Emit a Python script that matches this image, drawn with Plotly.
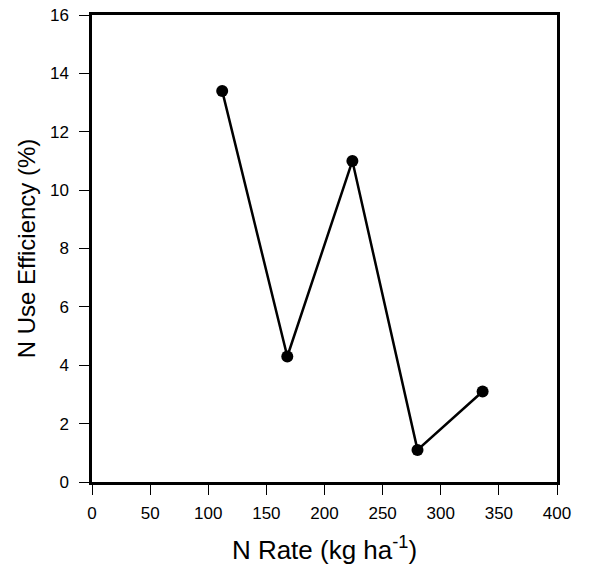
import plotly.graph_objects as go

n_rate = [112, 168, 224, 280, 336]
nue = [13.4, 4.3, 11.0, 1.1, 3.1]

x_ticks = [0, 50, 100, 150, 200, 250, 300, 350, 400]
y_ticks = [0, 2, 4, 6, 8, 10, 12, 14, 16]

fig = go.Figure(go.Scatter(
    x=n_rate, y=nue, mode="lines+markers",
    line=dict(color="black", width=2.5),
    marker=dict(color="black", size=12),
    showlegend=False,
    cliponaxis=False,
))

axis_common = dict(
    showgrid=False, zeroline=False, showline=True, linecolor="black", linewidth=2.5,
    mirror=True, ticks="outside", ticklen=10, tickwidth=1.2, tickcolor="black",
    automargin=False, ticklabeloverflow="allow",
    tickfont=dict(family="Liberation Sans, Arial, sans-serif", size=17, color="black"),
)

fig.update_layout(
    width=590, height=576,
    margin=dict(l=92, r=33, t=15, b=94),
    paper_bgcolor="white", plot_bgcolor="white",
    font=dict(family="Liberation Sans, Arial, sans-serif", color="black"),
    xaxis=dict(range=[0, 400], tickvals=x_ticks, ticklabelstandoff=4,
               title=dict(text="N Rate (kg ha<sup>-1</sup>)", font=dict(size=26), standoff=19),
               **axis_common),
    yaxis=dict(range=[0, 16], tickvals=y_ticks, ticklabelstandoff=7,
               title=dict(text="N Use Efficiency (%)", font=dict(size=24), standoff=8),
               **axis_common),
)

# remove the page's default body margin so the figure fills the window exactly
fig.write_html("out.html", config={"displayModeBar": False},
               post_script="document.body.style.margin='0';")
